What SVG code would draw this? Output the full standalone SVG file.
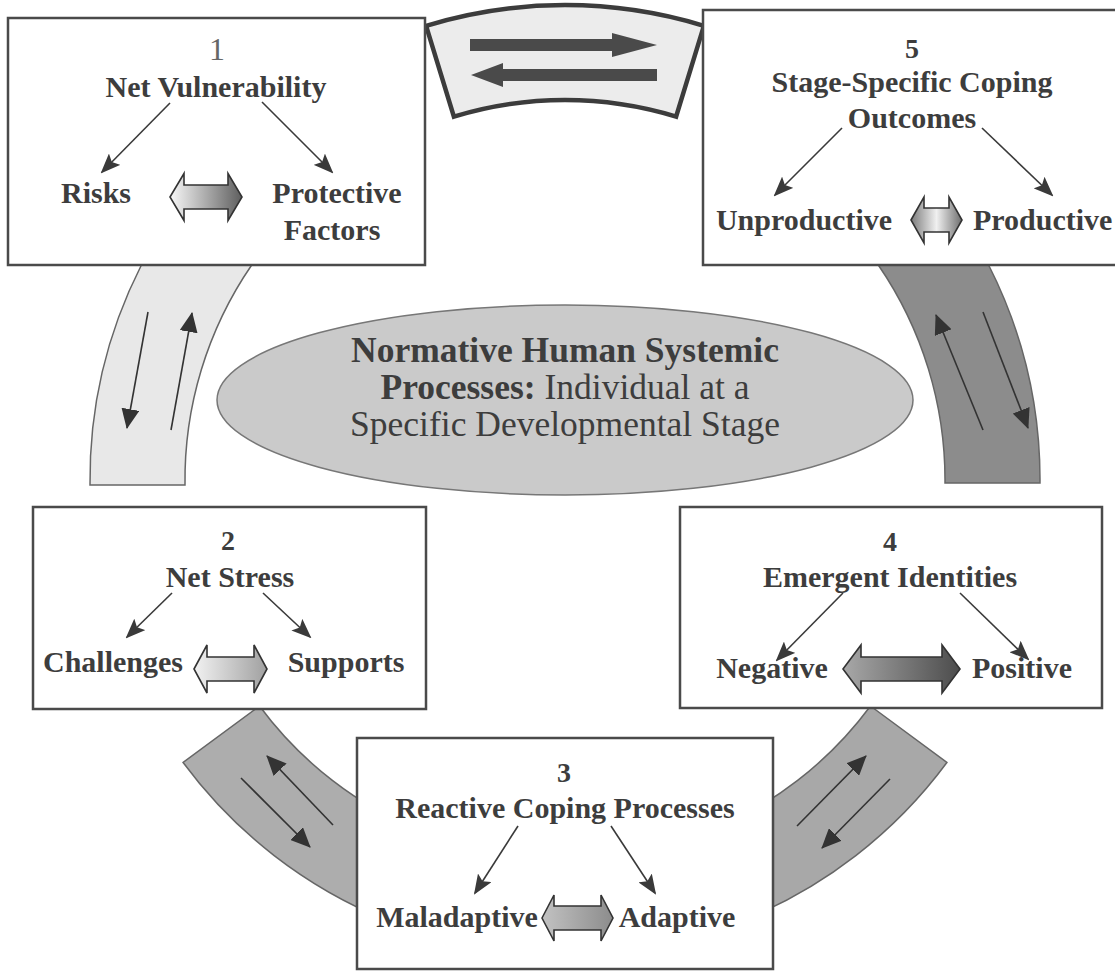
<svg xmlns="http://www.w3.org/2000/svg" width="1115" height="972" viewBox="0 0 1115 972">
<style>
.box{fill:#fff;stroke:#4a4a4a;stroke-width:2.5}
.t{font-family:"Liberation Serif","Times New Roman",serif;font-size:30px;font-weight:bold;fill:#3d3d3d;text-anchor:middle}
.ts{text-anchor:start}
.num{font-family:"Liberation Serif","Times New Roman",serif;font-size:28px;font-weight:bold;fill:#3d3d3d;text-anchor:middle}
.e{font-family:"Liberation Serif","Times New Roman",serif;font-size:35.5px;fill:#3d3d3d;text-anchor:middle}
.b{font-weight:bold}
.ar{stroke:#3a3a3a;stroke-width:1.6;fill:none;marker-end:url(#head)}
.bar{stroke:#333;stroke-width:1.6;fill:none;marker-end:url(#bhead)}
.dbl{stroke:#333;stroke-width:1.6}
.band{stroke:#666;stroke-width:1.5}
</style>
<defs>
<marker id="head" markerUnits="userSpaceOnUse" markerWidth="20" markerHeight="16" refX="18" refY="8" orient="auto">
<path d="M0,0 L20,8 L0,16 L4,8 Z" fill="#3a3a3a"/>
</marker>
<marker id="bhead" markerUnits="userSpaceOnUse" markerWidth="20" markerHeight="18" refX="19" refY="9" orient="auto">
<path d="M0,0 L20,9 L0,18 Z" fill="#333"/>
</marker>
<linearGradient id="g1" x1="0" y1="0" x2="1" y2="0"><stop offset="0" stop-color="#f8f8f8"/><stop offset="1" stop-color="#5e5e5e"/></linearGradient>
<linearGradient id="g2" x1="0" y1="0" x2="1" y2="0"><stop offset="0" stop-color="#f2f2f2"/><stop offset="1" stop-color="#a0a0a0"/></linearGradient>
<linearGradient id="g3" x1="0" y1="0" x2="1" y2="0"><stop offset="0" stop-color="#c2c2c2"/><stop offset="1" stop-color="#8c8c8c"/></linearGradient>
<linearGradient id="g4" x1="0" y1="0" x2="1" y2="0"><stop offset="0" stop-color="#a8a8a8"/><stop offset="1" stop-color="#4c4c4c"/></linearGradient>
<linearGradient id="g5" x1="0" y1="0" x2="1" y2="0"><stop offset="0" stop-color="#7c7c7c"/><stop offset="0.5" stop-color="#f0f0f0"/><stop offset="1" stop-color="#6e6e6e"/></linearGradient>
</defs>

<g id="connectors">
<path d="M426.1 25.8 A475 475 0 0 1 703.9 25.8 L676.1 116.6 A380 380 0 0 0 453.9 116.6 Z" fill="#ececec" stroke="#3c3c3c" stroke-width="4.5" stroke-linejoin="miter"/>
<polygon points="470,39 612,39 612,33 657,45 612,57 612,51 470,51" fill="#4a4a4a"/>
<polygon points="657,69 503,69 503,63 471,75 503,87 503,81 657,81" fill="#4a4a4a"/>
<path class="band" d="M141.4 265 A475 475 0 0 0 90 485 L185 485 A380 380 0 0 1 251.7 265 Z" fill="#e8e8e8"/>
<line class="bar" x1="148" y1="312" x2="127" y2="428"/>
<line class="bar" x1="171" y1="430" x2="192" y2="313"/>
<path class="band" d="M878.3 265 A380 380 0 0 1 945 483 L1040 483 A475 475 0 0 0 988.6 265 Z" fill="#8c8c8c" stroke="#5a5a5a"/>
<line class="bar" x1="983" y1="430" x2="936" y2="315"/>
<line class="bar" x1="983" y1="312" x2="1028" y2="428"/>
<path class="band" d="M259.5 706 L183.1 762.5 A475 475 0 0 0 387.1 920.4 L422.7 832.3 A380 380 0 0 1 259.5 706 Z" fill="#adadad"/>
<line class="bar" x1="333" y1="825" x2="267" y2="756"/>
<line class="bar" x1="241" y1="778" x2="310" y2="847"/>
<path class="band" d="M870.5 706 L946.9 762.5 A475 475 0 0 1 742.9 920.4 L707.3 832.3 A380 380 0 0 0 870.5 706 Z" fill="#a8a8a8"/>
<line class="bar" x1="797" y1="826" x2="866" y2="756"/>
<line class="bar" x1="890" y1="779" x2="822" y2="848"/>
</g>

<g id="center">
<ellipse cx="565" cy="400" rx="348" ry="95" fill="#cacaca" stroke="#777" stroke-width="1.5"/>
<text class="e b" x="565" y="362">Normative Human Systemic</text>
<text class="e" x="565" y="399"><tspan class="b">Processes:</tspan> Individual at a</text>
<text class="e" x="565" y="436">Specific Developmental Stage</text>
</g>

<g id="node1">
<rect class="box" x="8" y="18" width="417" height="247"/>
<text x="217" y="60" font-family="Liberation Serif, Times New Roman, serif" font-size="32" fill="#666" text-anchor="middle">1</text>
<text class="t" x="216" y="97">Net Vulnerability</text>
<line class="ar" x1="170" y1="103" x2="102" y2="172"/>
<line class="ar" x1="262" y1="102" x2="332" y2="172"/>
<text class="t" x="96" y="203">Risks</text>
<path class="dbl" fill="url(#g1)" d="M170 197 L184 173.5 L184 185 L228 185 L228 173.5 L242 197 L228 220.5 L228 209 L184 209 L184 220.5 Z"/>
<text class="t" x="337" y="203">Protective</text>
<text class="t" x="332" y="240">Factors</text>
</g>

<g id="node5">
<rect class="box" x="703" y="10" width="420" height="255"/>
<text class="num" x="912" y="58">5</text>
<text class="t" x="912" y="92">Stage-Specific Coping</text>
<text class="t" x="912" y="128">Outcomes</text>
<line class="ar" x1="842" y1="128" x2="775" y2="195"/>
<line class="ar" x1="982" y1="128" x2="1052" y2="195"/>
<text class="t" x="804" y="230">Unproductive</text>
<path class="dbl" fill="url(#g5)" d="M911 220 L924 197 L924 208 L949 208 L949 197 L962 220 L949 243 L949 232 L924 232 L924 243 Z"/>
<text class="t ts" x="973" y="230">Productive</text>
</g>

<g id="node2">
<rect class="box" x="33" y="507" width="393" height="202"/>
<text class="num" x="228" y="550">2</text>
<text class="t" x="230" y="587">Net Stress</text>
<line class="ar" x1="172" y1="593" x2="127" y2="637"/>
<line class="ar" x1="263" y1="593" x2="310" y2="637"/>
<text class="t" x="113" y="672">Challenges</text>
<path class="dbl" fill="url(#g2)" d="M194 669 L207 645 L207 657 L254 657 L254 645 L267 669 L254 693 L254 681 L207 681 L207 693 Z"/>
<text class="t" x="346" y="672">Supports</text>
</g>

<g id="node4">
<rect class="box" x="680" y="507" width="422" height="201"/>
<text class="num" x="890" y="551">4</text>
<text class="t" x="890" y="587">Emergent Identities</text>
<line class="ar" x1="843" y1="593" x2="777" y2="660"/>
<line class="ar" x1="960" y1="593" x2="1028" y2="659"/>
<text class="t" x="772" y="678">Negative</text>
<path class="dbl" fill="url(#g4)" d="M843 669 L861 645 L861 657 L942 657 L942 645 L960 669 L942 693 L942 681 L861 681 L861 693 Z"/>
<text class="t" x="1022" y="678">Positive</text>
</g>

<g id="node3">
<rect class="box" x="357" y="738" width="416" height="231"/>
<text class="num" x="564" y="782">3</text>
<text class="t" x="565" y="818">Reactive Coping Processes</text>
<line class="ar" x1="518" y1="826" x2="475" y2="893"/>
<line class="ar" x1="611" y1="826" x2="655" y2="893"/>
<text class="t" x="457" y="927">Maladaptive</text>
<path class="dbl" fill="url(#g3)" d="M542 918 L554 895 L554 906 L601 906 L601 895 L613 918 L601 941 L601 930 L554 930 L554 941 Z"/>
<text class="t" x="677" y="927">Adaptive</text>
</g>
</svg>
